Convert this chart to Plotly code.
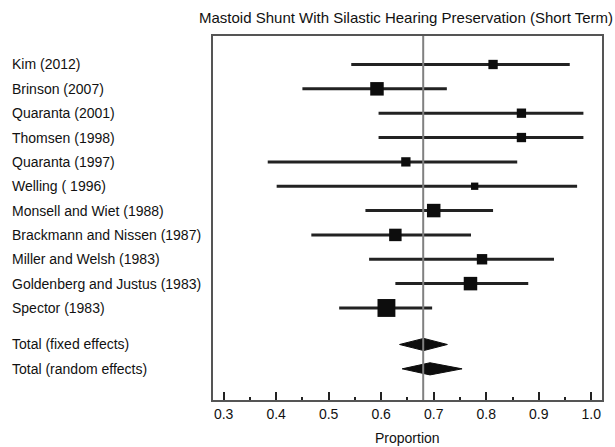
import plotly.graph_objects as go

# Study-level proportions with 95% confidence intervals
studies = [
    "Kim (2012)",
    "Brinson (2007)",
    "Quaranta (2001)",
    "Thomsen (1998)",
    "Quaranta (1997)",
    "Welling ( 1996)",
    "Monsell and Wiet (1988)",
    "Brackmann and Nissen (1987)",
    "Miller and Welsh (1983)",
    "Goldenberg and Justus (1983)",
    "Spector (1983)",
]
estimate = [0.813, 0.592, 0.867, 0.867, 0.647, 0.778, 0.700, 0.627, 0.792, 0.770, 0.610]
ci_low = [0.543, 0.450, 0.595, 0.595, 0.384, 0.401, 0.570, 0.467, 0.577, 0.627, 0.520]
ci_high = [0.959, 0.725, 0.985, 0.985, 0.859, 0.973, 0.813, 0.771, 0.929, 0.880, 0.697]
weight_pct = [5.7, 12.0, 5.7, 5.7, 5.7, 3.5, 12.0, 10.2, 7.1, 12.0, 21.0]

# Pooled estimates
pooled_labels = ["Total (fixed effects)", "Total (random effects)"]
pooled_est = [0.681, 0.693]
pooled_low = [0.635, 0.640]
pooled_high = [0.726, 0.754]

reference_value = 0.68
x_ticks = [0.3, 0.4, 0.5, 0.6, 0.7, 0.8, 0.9, 1.0]

FONT = "Liberation Sans, Arial, Helvetica"

# Row positions: studies on rows 0..10, pooled rows after a gap
study_rows = list(range(len(studies)))
pooled_rows = [len(studies) + 0.5, len(studies) + 1.5]

fig = go.Figure()

# Confidence interval lines
for r, lo, hi in zip(study_rows, ci_low, ci_high):
    fig.add_trace(go.Scatter(
        x=[lo, hi], y=[r, r], mode="lines",
        line=dict(color="#222222", width=3),
        hoverinfo="skip", showlegend=False,
    ))

# Weighted point estimates (square area proportional to weight)
sizes = [3.9 * (w ** 0.5) for w in weight_pct]
fig.add_trace(go.Scatter(
    x=estimate, y=study_rows, mode="markers",
    marker=dict(symbol="square", size=sizes, color="#0d0d0d", opacity=1,
                line=dict(width=0)),
    showlegend=False,
))

# Pooled estimate diamonds
half_h = 0.25
for r, est, lo, hi in zip(pooled_rows, pooled_est, pooled_low, pooled_high):
    fig.add_trace(go.Scatter(
        x=[lo, est, hi, est, lo],
        y=[r, r - half_h, r, r + half_h, r],
        mode="lines", fill="toself",
        fillcolor="#0d0d0d", line=dict(color="#0d0d0d", width=1),
        hoverinfo="skip", showlegend=False,
    ))

# Reference vertical line, on top of the marks
fig.add_trace(go.Scatter(
    x=[reference_value, reference_value], y=[-1.2, 13.8], mode="lines",
    line=dict(color="#808080", width=2),
    hoverinfo="skip", showlegend=False,
))

# Row labels, left aligned
plot_left, plot_w = 212.7, 389.0
label_x = (10 - plot_left) / plot_w
for r, name in zip(study_rows + pooled_rows, studies + pooled_labels):
    fig.add_annotation(
        x=label_x, y=r, xref="paper", yref="y", text=name,
        showarrow=False, xanchor="left", yanchor="middle",
        font=dict(family=FONT, size=14, color="#111111"),
    )

# Title
fig.add_annotation(
    x=(197 - plot_left) / plot_w, y=1.0, xref="paper", yref="paper",
    yshift=19, text="Mastoid Shunt With Silastic Hearing Preservation (Short Term)",
    showarrow=False, xanchor="left", yanchor="middle",
    font=dict(family=FONT, size=15, color="#111111"),
)

# Axis title
fig.add_annotation(
    x=0.5, y=0, xref="paper", yref="paper", yshift=-38,
    text="Proportion", showarrow=False, xanchor="center", yanchor="middle",
    font=dict(family=FONT, size=14, color="#111111"),
)

fig.update_layout(
    width=615, height=447,
    margin=dict(l=212.7, r=13.3, t=35.7, b=47, autoexpand=False),
    paper_bgcolor="white", plot_bgcolor="white",
    font=dict(family=FONT, size=14, color="#111111"),
    xaxis=dict(
        range=[0.2798, 1.0204], tickvals=x_ticks, tickformat=".1f",
        ticks="inside", ticklen=8, tickwidth=2, tickcolor="#222222",
        minor=dict(tickvals=[0.35, 0.45, 0.55, 0.65, 0.75, 0.85, 0.95],
                   ticks="inside", ticklen=3, tickwidth=2, tickcolor="#222222"),
        showgrid=False, zeroline=False, automargin=False,
        showline=True, mirror=True, linecolor="#555555", linewidth=2,
        tickfont=dict(family=FONT, size=14),
    ),
    yaxis=dict(
        range=[13.78, -1.17], showticklabels=False, ticks="",
        showgrid=False, zeroline=False, automargin=False,
        showline=True, mirror=True, linecolor="#555555", linewidth=2,
    ),
)

fig.write_html("out.html")
